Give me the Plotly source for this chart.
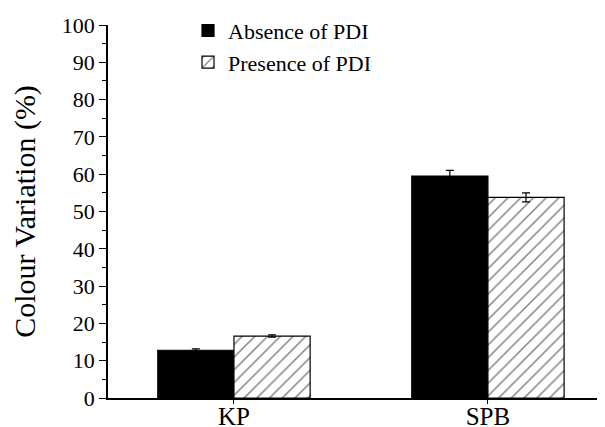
import plotly.graph_objects as go

categories = ["KP", "SPB"]
absence = [12.8, 59.5]
absence_err = [0.35, 1.5]
presence = [16.6, 53.8]
presence_err = [0.3, 1.2]

FONT = "Liberation Serif, Times New Roman, serif"

fig = go.Figure()
fig.add_trace(go.Bar(
    x=categories, y=absence, name="Absence of PDI",
    marker=dict(color="black", line=dict(color="black", width=1.2)),
    error_y=dict(type="data", array=absence_err, color="black", thickness=1.2, width=4),
))
fig.add_trace(go.Bar(
    x=categories, y=presence, name="Presence of PDI",
    marker=dict(color="white", line=dict(color="black", width=1.2),
                pattern=dict(shape="/", fgcolor="black", bgcolor="white", size=9, solidity=0.16)),
    error_y=dict(type="data", array=presence_err, color="black", thickness=1.2, width=4),
))

fig.update_layout(
    width=597, height=419,
    margin=dict(l=100, r=0, t=17, b=29, autoexpand=False),
    paper_bgcolor="white", plot_bgcolor="white",
    barmode="group", bargap=0.4, bargroupgap=0,
    font=dict(family=FONT, color="black", size=22),
    legend=dict(x=0.161, y=1.041, xanchor="left", yanchor="top",
                bgcolor="rgba(0,0,0,0)", font=dict(size=22, family=FONT),
                tracegroupgap=0),
    xaxis=dict(range=[-0.496, 1.461], showline=True, linecolor="black", linewidth=1.5,
               ticks="outside", ticklen=4, tickcolor="black", showgrid=False,
               ticklabelstandoff=-9,
               tickfont=dict(size=25, family=FONT), zeroline=False, automargin=False),
    yaxis=dict(range=[0, 100], dtick=10, showline=True, linecolor="black", linewidth=1.5,
               ticks="outside", ticklen=7, tickcolor="black", showgrid=False,
               zeroline=False, tickfont=dict(size=22, family=FONT), automargin=False,
               minor=dict(dtick=5, ticks="outside", ticklen=4, tickcolor="black"),
               title=dict(text="Colour Variation (%)", font=dict(size=30, family=FONT), standoff=20)),
)

fig.write_html("out.html")
